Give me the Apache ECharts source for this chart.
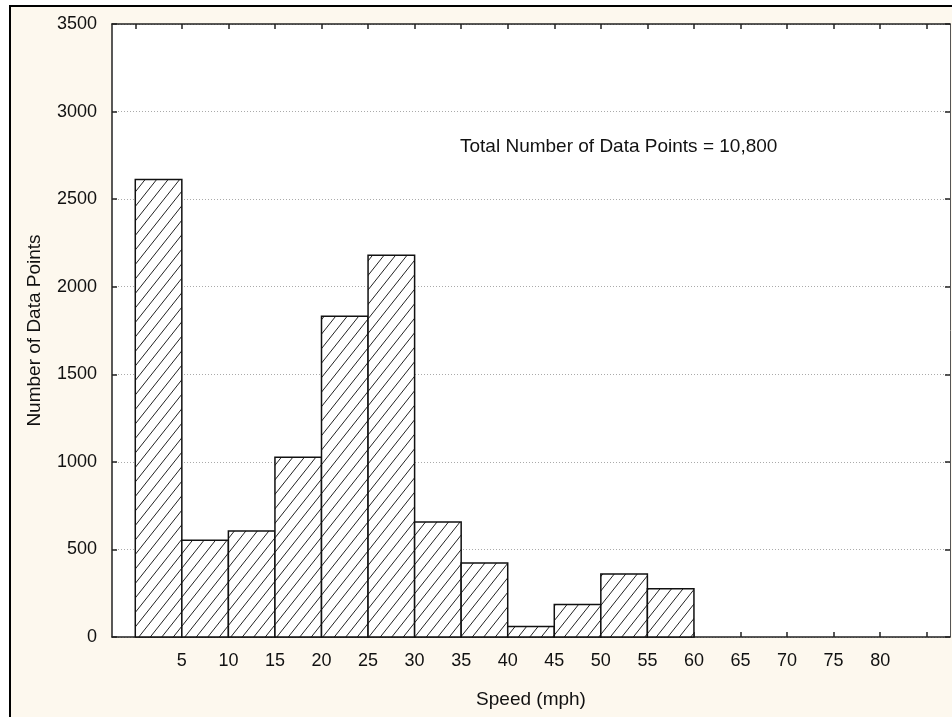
<!DOCTYPE html>
<html>
<head>
<meta charset="utf-8">
<script src="https://cdn.jsdelivr.net/npm/echarts@6/dist/echarts.min.js"></script>
<style>
html,body{margin:0;padding:0;background:#ffffff;}
#chart{width:952px;height:717px;}
</style>
</head>
<body>
<div id="chart"></div>
<script>
// ---- data ----
var binStarts = [0, 5, 10, 15, 20, 25, 30, 35, 40, 45, 50, 55];
var binWidth = 5;
var counts = [2612, 553, 605, 1027, 1831, 2180, 656, 422, 60, 186, 359, 275];
var xTickLabels = [5, 10, 15, 20, 25, 30, 35, 40, 45, 50, 55, 60, 65, 70, 75, 80];
var xTickMarks = [0, 5, 10, 15, 20, 25, 30, 35, 40, 45, 50, 55, 60, 65, 70, 75, 80, 85];
var xName = 'Speed (mph)';
var yName = 'Number of Data Points';
var annotation = 'Total Number of Data Points = 10,800';

// hatch pattern
var pc = document.createElement('canvas');
pc.width = 23; pc.height = 29;
var g = pc.getContext('2d');
g.fillStyle = '#ffffff';
g.fillRect(0, 0, 23, 29);
g.strokeStyle = '#222222';
g.lineWidth = 1;
for (var k = -3; k <= 4; k++) {
  var x0 = k * 11.5;
  g.beginPath();
  g.moveTo(x0, 29);
  g.lineTo(x0 + 23, 0);
  g.stroke();
}

var barData = binStarts.map(function (s, i) { return [s, s + binWidth, counts[i]]; });

var FONT = "'Liberation Sans', Arial, sans-serif";
var chart = echarts.init(document.getElementById('chart'), null, {renderer: 'canvas'});
chart.setOption({
  animation: false,
  backgroundColor: '#ffffff',
  graphic: [
    {type: 'rect', z: -100, silent: true,
     shape: {x: 10, y: 6, width: 960, height: 730},
     style: {fill: '#fdf8ee', stroke: '#000000', lineWidth: 2}},
    {type: 'text', left: 460, top: 137, z: 100,
     style: {text: annotation, font: '19px ' + FONT, fill: '#111111'}}
  ],
  grid: {left: 112, top: 24, width: 838, height: 613, show: true,
         backgroundColor: '#ffffff', borderWidth: 0, containLabel: false},
  xAxis: [
    {type: 'value', position: 'bottom', min: -2.5, max: 87.5,
     name: xName, nameLocation: 'middle', nameGap: 53,
     nameTextStyle: {fontFamily: FONT, fontSize: 19, color: '#111'},
     axisLine: {show: true, onZero: false, lineStyle: {color: '#222', width: 1.5}},
     axisTick: {show: true, inside: true, length: 5, customValues: xTickMarks,
                lineStyle: {color: '#222', width: 1.5}},
     axisLabel: {show: true, customValues: xTickLabels, margin: 15,
                 fontFamily: FONT, fontSize: 18, color: '#111'},
     splitLine: {show: false}},
    {type: 'value', position: 'top', min: -2.5, max: 87.5,
     axisLine: {show: true, onZero: false, lineStyle: {color: '#222', width: 1.5}},
     axisTick: {show: true, inside: true, length: 5, customValues: xTickMarks,
                lineStyle: {color: '#222', width: 1.5}},
     axisLabel: {show: false},
     splitLine: {show: false}}
  ],
  yAxis: [
    {type: 'value', position: 'left', min: 0, max: 3500, interval: 500,
     name: yName, nameLocation: 'middle', nameGap: 68, nameRotate: 90,
     nameTextStyle: {fontFamily: FONT, fontSize: 19, color: '#111'},
     axisLine: {show: true, onZero: false, lineStyle: {color: '#222', width: 1.5}},
     axisTick: {show: true, inside: true, length: 5, lineStyle: {color: '#222', width: 1.5}},
     axisLabel: {margin: 15, fontFamily: FONT, fontSize: 18, color: '#111',
                 formatter: function (v) { return String(v); }},
     splitLine: {show: true, lineStyle: {color: '#aaaaaa', width: 1, type: [1, 2]}}},
    {type: 'value', position: 'right', min: 0, max: 3500, interval: 500,
     axisLine: {show: true, onZero: false, lineStyle: {color: '#555', width: 1}},
     axisTick: {show: true, inside: true, length: 5, lineStyle: {color: '#222', width: 1.5}},
     axisLabel: {show: false},
     splitLine: {show: false}}
  ],
  series: [{
    type: 'custom',
    xAxisIndex: 0, yAxisIndex: 0,
    data: barData,
    encode: {x: [0, 1], y: 2},
    renderItem: function (params, api) {
      var p0 = api.coord([api.value(0), api.value(2)]);
      var p1 = api.coord([api.value(1), 0]);
      return {
        type: 'rect',
        shape: {x: p0[0], y: p0[1], width: p1[0] - p0[0], height: p1[1] - p0[1]},
        style: {fill: {image: pc, repeat: 'repeat'}, stroke: '#111111', lineWidth: 1.5}
      };
    }
  }]
});
</script>
</body>
</html>
